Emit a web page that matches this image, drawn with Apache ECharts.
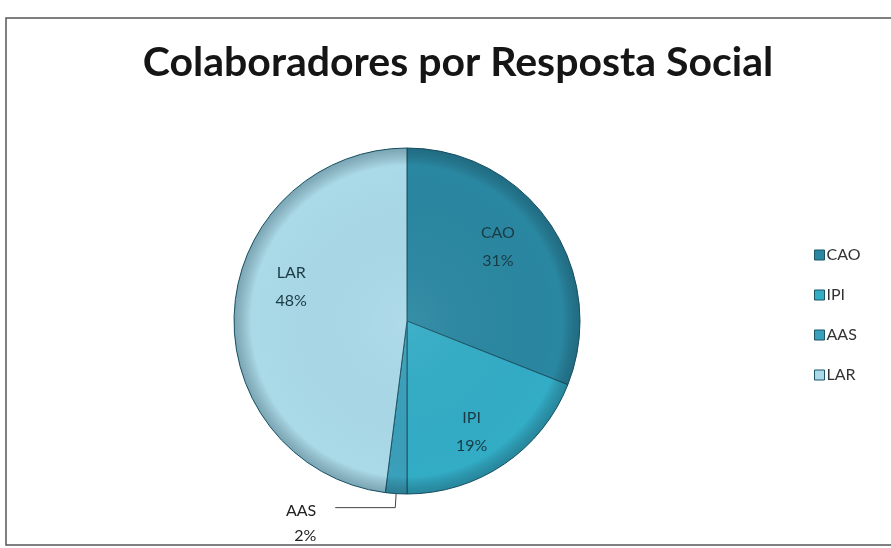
<!DOCTYPE html>
<html><head><meta charset="utf-8">
<script src="https://cdn.jsdelivr.net/npm/echarts@6/dist/echarts.min.js"></script>
<style>html,body{margin:0;padding:0;background:#fff}#c{width:891px;height:548px}</style>
</head><body><div id="c"></div>
<script>
const categories = ['CAO', 'IPI', 'AAS', 'LAR'];
const values = [31, 19, 2, 48];
const titleText = 'Colaboradores por Resposta Social';

const sliceColors = ['#2a87a1', '#33acc6', '#3a9fba', '#aad9e8'];
const labelOffsets = { CAO: [-10, -6], IPI: [-4, 10], LAR: [6, -26] };

const pieData = categories.map((n, i) => ({ name: n, value: values[i] }));
const labelData = categories.map((n, i) => ({
  name: n, value: values[i],
  label: n === 'AAS' ? { show: false } : { offset: labelOffsets[n] }
}));
const aasLabelData = categories.map((n, i) => ({
  name: n, value: values[i],
  label: { show: n === 'AAS' }, labelLine: { show: n === 'AAS' }
}));

const chart = echarts.init(document.getElementById('c'));
chart.setOption({
  animation: false,
  backgroundColor: '#fff',
  color: sliceColors,
  title: {
    text: titleText, left: 453, top: 37, textAlign: 'center',
    textStyle: { fontFamily: 'Lato', fontWeight: 'bold', fontSize: 41, color: '#151515' }
  },
  legend: {
    data: categories, orient: 'vertical', left: 809, top: 242,
    itemWidth: 10, itemHeight: 10, itemGap: 24, icon: 'rect',
    itemStyle: { borderColor: '#1b5566', borderWidth: 1 },
    textStyle: { fontFamily: 'Lato', fontSize: 16, color: '#333', padding: [0, 0, 0, -3] }
  },
  graphic: [{
    type: 'rect', shape: { x: 6, y: 18, width: 900, height: 527 },
    style: { fill: 'none', stroke: '#555', lineWidth: 1.5 }, silent: true
  }],
  series: [
    {
      type: 'pie', name: 'main', center: [407, 321], radius: [0, 173],
      startAngle: 90, clockwise: true,
      data: pieData,
      itemStyle: { borderColor: '#1b5566', borderWidth: 1 },
      label: { show: false }, labelLine: { show: false }
    },
    {
      type: 'pie', name: 'shade', center: [407, 321], radius: [0, 173],
      silent: true, z: 3, legendHoverLink: false,
      data: [{ name: 'shade', value: 1 }],
      itemStyle: { color: { type: 'radial', x: 0.5, y: 0.5, r: 0.5,
        colorStops: [{ offset: 0, color: 'rgba(255,255,255,0.06)' }, { offset: 0.9, color: 'rgba(0,0,0,0)' }, { offset: 1, color: 'rgba(10,45,60,0.3)' }] } },
      label: { show: false }, labelLine: { show: false }
    },
    {
      type: 'pie', name: 'labels', center: [407, 321], radius: [0, 238],
      startAngle: 90, clockwise: true, silent: true, z: 5,
      data: labelData,
      itemStyle: { color: 'rgba(0,0,0,0)', borderWidth: 0 },
      label: { show: true, position: 'inside', formatter: '{b}\n{d}%',
        fontFamily: 'Lato', fontSize: 16, lineHeight: 28, color: '#1a3a44' },
      labelLine: { show: false }
    },
    {
      type: 'pie', name: 'outer', center: [407, 321], radius: [0, 173],
      startAngle: 90, clockwise: true, silent: true, z: 5,
      data: aasLabelData,
      itemStyle: { color: 'rgba(0,0,0,0)', borderWidth: 0 },
      label: { position: 'outside', formatter: '{b}\n{d}%', fontFamily: 'Lato',
        fontSize: 16, lineHeight: 25, color: '#222', align: 'center' },
      labelLine: { length: 14, length2: 60, lineStyle: { color: '#444', width: 1 } },
      labelLayout: { dy: 16, dx: -14 }
    }
  ]
});
</script></body></html>
